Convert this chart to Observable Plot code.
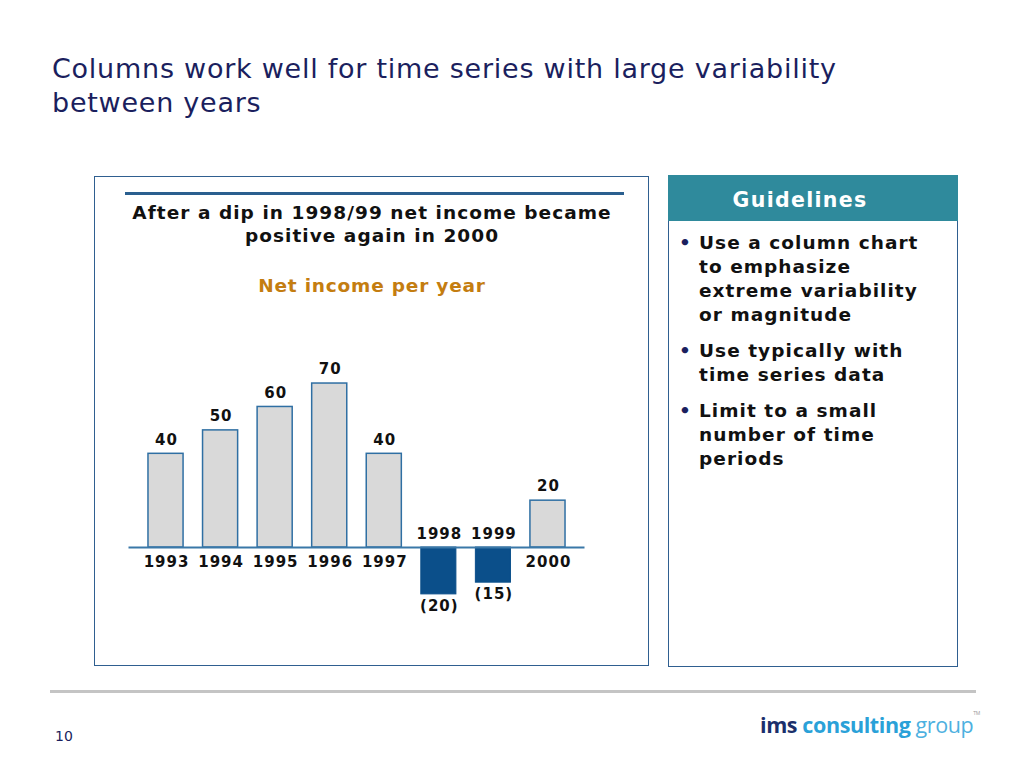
<!DOCTYPE html>
<html>
<head>
<meta charset="utf-8">
<script src="https://cdn.jsdelivr.net/npm/d3@7"></script>
<script src="https://cdn.jsdelivr.net/npm/@observablehq/plot@0.6"></script>
<style>
  html, body { margin: 0; padding: 0; background: #fff; }
  #page { position: relative; width: 1024px; height: 768px; overflow: hidden; font-family: "DejaVu Sans", Verdana, sans-serif; }
  .abs { position: absolute; }
  #title { left: 52px; top: 52px; font-size: 27px; letter-spacing: 0.75px; line-height: 34px; color: #1b1f5e; white-space: nowrap; }
  #leftPanel { left: 94px; top: 176px; width: 553px; height: 488px; border: 1.5px solid #2f5f90; }
  #topRule { left: 125px; top: 192px; width: 499px; height: 3px; background: #2a5f8f; }
  #sub { left: 94px; top: 201px; width: 556px; text-align: center; font-weight: bold; font-size: 18.5px; letter-spacing: 1.05px; line-height: 23px; color: #111; white-space: nowrap; }
  #chartTitle { left: 94px; top: 275px; width: 556px; text-align: center; font-weight: bold; font-size: 18.5px; letter-spacing: 0.8px; color: #c47d10; }
  #chart { left: 94px; top: 340px; }
  #chart text { letter-spacing: 1px; }
  #rightPanel { left: 668px; top: 175px; width: 288px; height: 490px; border: 1.5px solid #2f5f90; }
  #guideHead { left: 668px; top: 175px; width: 264px; padding-right: 26px; height: 46px; background: #2f8a9c; color: #fff; font-weight: bold; font-size: 20.5px; letter-spacing: 1.3px; text-align: center; line-height: 50px; }
  #guide { left: 679px; top: 231px; width: 250px; font-weight: bold; font-size: 18.5px; letter-spacing: 1.05px; line-height: 24px; color: #111; }
  #guide ul { margin: 0; padding: 0; list-style: none; }
  #guide li { position: relative; padding-left: 20px; margin-bottom: 12px; }
  #guide li::before { content: "•"; position: absolute; left: 0; top: 0; color: #1b1f5e; }
  #bottomRule { left: 50px; top: 690px; width: 926px; height: 3px; background: #c4c4c4; }
  #pageNo { left: 55px; top: 728px; font-size: 14px; color: #1b1f5e; }
  #logo { left: 760px; top: 710px; font-family: "Open Sans", sans-serif; font-size: 21.5px; letter-spacing: -0.4px; white-space: nowrap; }
  #logo .ims { color: #1b2f6b; font-weight: bold; }
  #logo .cons { color: #2aa1d8; font-weight: bold; }
  #logo .grp { color: #4db0e0; }
  #logo sup { font-size: 5px; color: #999; vertical-align: top; }
</style>
</head>
<body>
<div id="page">
  <div id="title" class="abs">Columns work well for time series with large variability<br>between years</div>
  <div id="leftPanel" class="abs"></div>
  <div id="topRule" class="abs"></div>
  <div id="sub" class="abs">After a dip in 1998/99 net income became<br>positive again in 2000</div>
  <div id="chartTitle" class="abs">Net income per year</div>
  <div id="chart" class="abs"></div>
  <div id="rightPanel" class="abs"></div>
  <div id="guideHead" class="abs">Guidelines</div>
  <div id="guide" class="abs">
    <ul>
      <li>Use a column chart to emphasize extreme variability or magnitude</li>
      <li>Use typically with time series data</li>
      <li>Limit to a small number of time periods</li>
    </ul>
  </div>
  <div id="bottomRule" class="abs"></div>
  <div id="pageNo" class="abs">10</div>
  <div id="logo" class="abs"><span class="ims">ims</span> <span class="cons">consulting</span> <span class="grp">group</span><sup>TM</sup></div>
</div>
<script>
const years = ["1993", "1994", "1995", "1996", "1997", "1998", "1999", "2000"];
const netIncome = [40, 50, 60, 70, 40, -20, -15, 20];

const data = years.map((year, i) => ({ year, value: netIncome[i] }));
const pos = data.filter(d => d.value >= 0);
const neg = data.filter(d => d.value < 0);
const fmt = v => v < 0 ? `(${Math.abs(v)})` : `${v}`;
const font = "DejaVu Sans, Verdana, sans-serif";

const chart = Plot.plot({
  width: 556,
  height: 290,
  marginLeft: 34.5,
  marginRight: 65.5,
  marginTop: 19.6,
  marginBottom: 24.4,
  x: { type: "band", domain: years, padding: 0.357, round: false, axis: null },
  y: { domain: [-25, 80], axis: null },
  style: { fontFamily: font, background: "transparent" },
  marks: [
    Plot.barY(pos, { x: "year", y: "value", fill: "#d9d9d9", stroke: "#2f6fa3", strokeWidth: 1.5 }),
    Plot.barY(neg, { x: "year", y: "value", fill: "#0b4f8a", stroke: "#0b4f8a", strokeWidth: 1 }),
    Plot.ruleY([0], { stroke: "#3a78a8", strokeWidth: 2 }),
    Plot.text(pos, { x: "year", y: "value", text: d => fmt(d.value), dy: -14, dx: 0.5, fontSize: 15, fontWeight: "bold", fill: "#111" }),
    Plot.text(neg, { x: "year", y: "value", text: d => fmt(d.value), dy: 12, dx: 0.5, fontSize: 15, fontWeight: "bold", fill: "#111" }),
    Plot.text(pos, { x: "year", y: 0, text: "year", dy: 15, dx: 0.5, fontSize: 15, fontWeight: "bold", fill: "#111" }),
    Plot.text(neg, { x: "year", y: 0, text: "year", dy: -13, dx: 0.5, fontSize: 15, fontWeight: "bold", fill: "#111" })
  ]
});
document.getElementById("chart").appendChild(chart);
</script>
</body>
</html>
